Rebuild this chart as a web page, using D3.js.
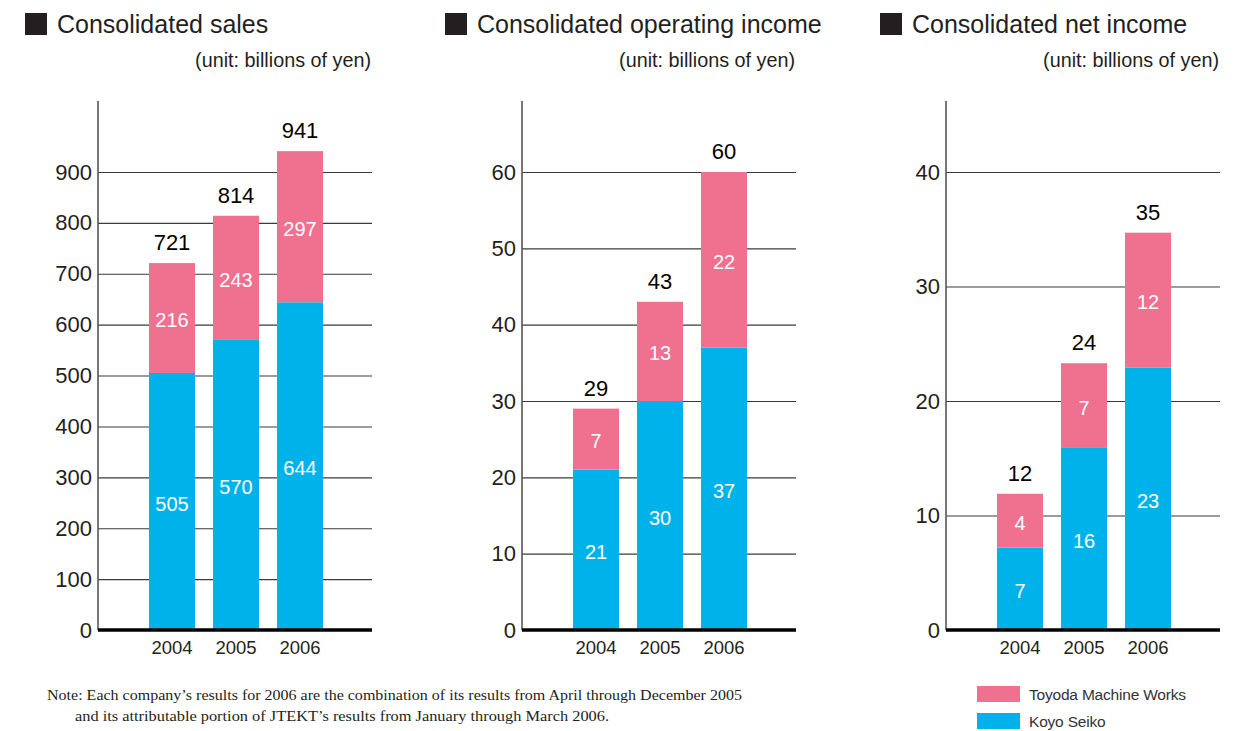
<!DOCTYPE html>
<html><head><meta charset="utf-8">
<script src="https://cdn.jsdelivr.net/npm/d3@7"></script>
<style>
html,body{margin:0;padding:0;background:#fff;}
svg{display:block;font-family:"Liberation Sans",Arial,Helvetica,sans-serif;}
</style></head>
<body><svg id="c" width="1248" height="731"></svg>
<script>
// ---- data ----
const years = ["2004", "2005", "2006"];
const seriesNames = ["Toyoda Machine Works", "Koyo Seiko"];

const salesKoyo = [505, 570, 644];
const salesToyoda = [216, 243, 297];
const salesTotal = [721, 814, 941];
const salesTicks = [0, 100, 200, 300, 400, 500, 600, 700, 800, 900];

const opKoyo = [21, 30, 37];
const opToyoda = [7, 13, 22];
const opTotal = [29, 43, 60];
const opTicks = [0, 10, 20, 30, 40, 50, 60];

const netKoyo = [7, 16, 23];
const netToyoda = [4, 7, 12];
const netTotal = [12, 24, 35];
// bar heights (published labels are rounded)
const netKoyoBar = [7.2, 15.9, 22.9];
const netTotalBar = [11.9, 23.3, 34.7];
const netTicks = [0, 10, 20, 30, 40];

const titles = ["Consolidated sales", "Consolidated operating income", "Consolidated net income"];
const unitText = "(unit: billions of yen)";
const noteLines = [
  "Note: Each company\u2019s results for 2006 are the combination of its results from April through December 2005",
  "and its attributable portion of JTEKT\u2019s results from January through March 2006."
];

const PINK = "#f07090", BLUE = "#00b2ea", DARK = "#231f20";

const panels = [
  {title: titles[0], tx: 25, ax: 98, koyo: salesKoyo, toyoda: salesToyoda, total: salesTotal,
   koyoBar: salesKoyo, totalBar: salesTotal, ticks: salesTicks},
  {title: titles[1], tx: 445, ax: 522, koyo: opKoyo, toyoda: opToyoda, total: opTotal,
   koyoBar: opKoyo, totalBar: opTotal, ticks: opTicks},
  {title: titles[2], tx: 880, ax: 946, koyo: netKoyo, toyoda: netToyoda, total: netTotal,
   koyoBar: netKoyoBar, totalBar: netTotalBar, ticks: netTicks}
];

const svg = d3.select("#c");
const y0 = 630, yTop = 172, axisTop = 101, gridW = 274;

panels.forEach(p => {
  const g = svg.append("g");
  // title
  g.append("rect").attr("x", p.tx).attr("y", 13).attr("width", 22).attr("height", 22).attr("fill", DARK);
  g.append("text").attr("x", p.tx + 32).attr("y", 33).attr("font-size", 25).attr("fill", DARK).text(p.title);
  g.append("text").attr("x", p.ax + gridW - 1).attr("y", 67).attr("text-anchor", "end")
    .attr("font-size", 19.8).attr("fill", DARK).text(unitText);

  const y = d3.scaleLinear().domain([0, p.ticks[p.ticks.length - 1]]).range([y0, yTop]);
  const x = d3.scaleBand().domain(years).range([p.ax + 42, p.ax + 234])
    .paddingInner(0.28125).paddingOuter(0.140625);

  // gridlines + tick labels
  const axis = g.append("g").attr("transform", `translate(${p.ax},0)`)
    .call(d3.axisLeft(y).tickValues(p.ticks).tickSize(-gridW).tickPadding(6).tickFormat(d3.format("d")));
  axis.select(".domain").remove();
  axis.selectAll(".tick line").attr("stroke", "#3a3a3a").attr("stroke-width", 1.1);
  axis.selectAll(".tick text").attr("font-size", 22).attr("fill", DARK)
    .attr("font-family", "'Liberation Sans',Arial,sans-serif");

  // bars
  const bars = g.append("g");
  years.forEach((yr, i) => {
    bars.append("rect").attr("x", x(yr)).attr("width", x.bandwidth())
      .attr("y", y(p.koyoBar[i])).attr("height", y(0) - y(p.koyoBar[i])).attr("fill", BLUE);
    bars.append("rect").attr("x", x(yr)).attr("width", x.bandwidth())
      .attr("y", y(p.totalBar[i])).attr("height", y(p.koyoBar[i]) - y(p.totalBar[i])).attr("fill", PINK);
    const cx = x(yr) + x.bandwidth() / 2;
    bars.append("text").attr("x", cx).attr("y", (y(0) + y(p.koyoBar[i])) / 2 + 9)
      .attr("text-anchor", "middle").attr("font-size", 20).attr("fill", "#fff").text(p.koyo[i]);
    bars.append("text").attr("x", cx).attr("y", (y(p.koyoBar[i]) + y(p.totalBar[i])) / 2 + 9)
      .attr("text-anchor", "middle").attr("font-size", 20).attr("fill", "#fff").text(p.toyoda[i]);
    bars.append("text").attr("x", cx).attr("y", y(p.totalBar[i]) - 13)
      .attr("text-anchor", "middle").attr("font-size", 22).attr("fill", "#000")
      .attr("stroke", "#fff").attr("stroke-width", 5).attr("paint-order", "stroke")
      .text(p.total[i]);
    // year label
    g.append("text").attr("x", cx).attr("y", 654).attr("text-anchor", "middle")
      .attr("font-size", 18.5).attr("fill", DARK).text(yr);
  });

  // vertical axis line & baseline
  g.append("line").attr("x1", p.ax).attr("x2", p.ax).attr("y1", axisTop).attr("y2", y0)
    .attr("stroke", "#555").attr("stroke-width", 1.6);
  g.append("line").attr("x1", p.ax).attr("x2", p.ax + gridW).attr("y1", y0).attr("y2", y0)
    .attr("stroke", "#000").attr("stroke-width", 3.5);
});

// legend
const legend = svg.append("g");
[PINK, BLUE].forEach((c, i) => {
  legend.append("rect").attr("x", 977).attr("y", 686 + i * 27).attr("width", 43).attr("height", 16).attr("fill", c);
  legend.append("text").attr("x", 1029).attr("y", 700 + i * 27).attr("font-size", 15.5)
    .attr("letter-spacing", -0.2).attr("fill", "#333").text(seriesNames[i]);
});

// note
svg.append("text").attr("x", 47).attr("y", 700).attr("font-family", "'Liberation Serif','Times New Roman',serif")
  .attr("font-size", 14).attr("fill", DARK).attr("textLength", 695).attr("lengthAdjust", "spacingAndGlyphs").text(noteLines[0]);
svg.append("text").attr("x", 75).attr("y", 721).attr("font-family", "'Liberation Serif','Times New Roman',serif")
  .attr("font-size", 14).attr("fill", DARK).attr("textLength", 534).attr("lengthAdjust", "spacingAndGlyphs").text(noteLines[1]);
</script></body></html>
